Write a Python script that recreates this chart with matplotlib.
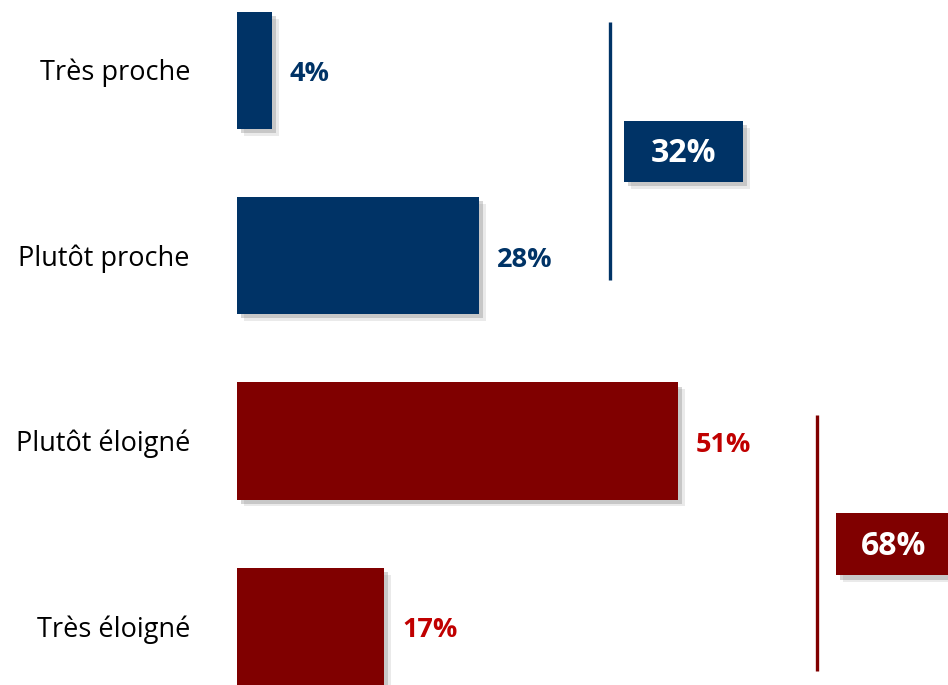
import matplotlib.pyplot as plt
from matplotlib.patches import Rectangle
import matplotlib.patheffects as pe

plt.rcParams['font.family'] = ['Open Sans', 'DejaVu Sans']

categories = ["Très proche", "Plutôt proche", "Plutôt éloigné", "Très éloigné"]
values = [4, 28, 51, 17]
bar_colors = ["#003366", "#003366", "#800000", "#800000"]
label_colors = ["#003366", "#003366", "#C00000", "#C00000"]

group_totals = [32, 68]
group_colors = ["#003366", "#800000"]

fig = plt.figure(figsize=(9.48, 6.85), dpi=100)
ax = fig.add_axes([0, 0, 1, 1])

px = 8.65  # pixels per percent
ax.set_xlim(-237 / px, (948 - 237) / px)
ax.set_ylim(3 + 58.5 / 185, -70 / 185)
ax.axis("off")

shadow = [pe.SimplePatchShadow(offset=(5, -5), shadow_rgbFace="#bbbbbb", alpha=0.3),
          pe.SimplePatchShadow(offset=(3, -3), shadow_rgbFace="#888888", alpha=0.35),
          pe.Normal()]

ypos = list(range(len(categories)))
bars = ax.barh(ypos, values, height=0.632, color=bar_colors, zorder=3)
for b in bars:
    b.set_path_effects(shadow)

for y, cat, v, c in zip(ypos, categories, values, label_colors):
    ax.text(-47 / px, y + 0.016, cat, ha="right", va="center", fontsize=19.5, color="black")
    ax.text(v + 18 / px, y + 0.022, f"{v}%", ha="left", va="center", fontsize=19.5,
            fontweight="bold", color=c)

# group brackets and total boxes
line_x = [43.1, 67.1]
line_y = [(-0.26, 1.13), (1.86, 3.24)]
box_x = [(44.7, 58.5), (69.2, 85.0)]
box_y = [(0.276, 0.605), (2.39, 2.725)]
text_x = [(44.7 + 58.5) / 2, 75.9]

for i in range(2):
    ax.plot([line_x[i], line_x[i]], line_y[i], color=group_colors[i], lw=2.4,
            solid_capstyle="butt", zorder=3)
    r = Rectangle((box_x[i][0], box_y[i][0]), box_x[i][1] - box_x[i][0],
                  box_y[i][1] - box_y[i][0], facecolor=group_colors[i], zorder=3)
    r.set_path_effects(shadow)
    ax.add_patch(r)
    ax.text(text_x[i], sum(box_y[i]) / 2 + 0.01, f"{group_totals[i]}%", ha="center",
            va="center", fontsize=23, fontweight="bold", color="white", zorder=4)

fig.savefig("out.png", dpi=100)
